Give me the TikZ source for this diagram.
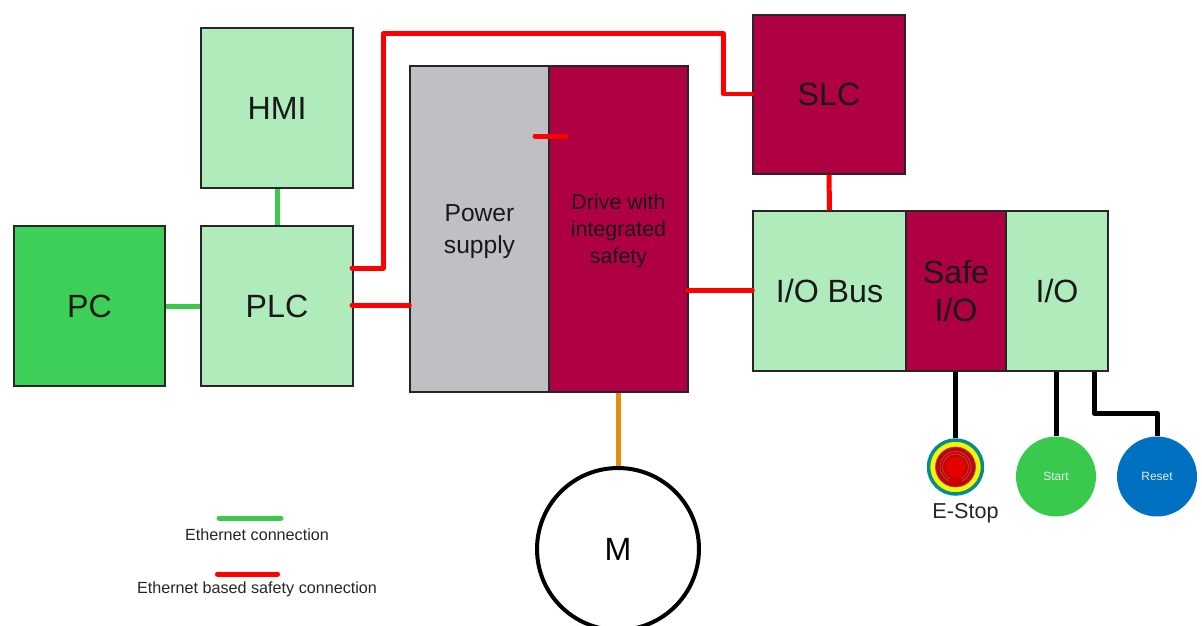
\documentclass[tikz,border=0pt]{standalone}
\usepackage{fontspec}
\setmainfont{Liberation Sans}
\definecolor{lightgrn}{HTML}{B0EBBC}
\definecolor{pcgrn}{HTML}{3DCF57}
\definecolor{safered}{HTML}{B00044}
\definecolor{psgray}{HTML}{BFC0C3}
\definecolor{ethgrn}{HTML}{39C94C}
\definecolor{linkorange}{HTML}{E98A0B}
\definecolor{resetblue}{HTML}{0070C0}
\tikzset{
  block/.style={draw=black!85, line width=.8pt, inner sep=0pt, align=center, text=black!90, font=\fontsize{18.3}{22}\selectfont},
  boxtext/.style={align=center, text=black!90},
  eth/.style={ethgrn, line width=.1cm},
  safety/.style={red, line width=.1cm, line cap=round, line join=round},
  wire/.style={black, line width=.1cm, line join=round},
  legend/.style={font=\fontsize{9.2}{11}\selectfont, text=black!85},
  btn/.style={circle, inner sep=0pt, minimum size=1.6cm, text=white!92!black, font=\fontsize{6.8}{8}\selectfont}
}
\begin{document}
\begin{tikzpicture}[x=.02cm, y=-.02cm]
\useasboundingbox (0,0) rectangle (1202,625);
\clip (0,0) rectangle (1202,625);

\node[block, fill=pcgrn, minimum width=3.02cm, minimum height=3.2cm] (pc) at (89.5,306) {PC};
\node[block, fill=lightgrn, minimum width=3.04cm, minimum height=3.2cm] (hmi) at (277,108) {HMI};
\node[block, fill=lightgrn, minimum width=3.04cm, minimum height=3.2cm] (plc) at (277,306) {PLC};
\node[block, fill=psgray, minimum width=2.78cm, minimum height=6.52cm] (ps) at (479.5,229) {};
\node[block, fill=safered, minimum width=2.78cm, minimum height=6.52cm] (drive) at (618.5,229) {};
\node[boxtext, font=\fontsize{14}{18}\selectfont] (pstext) at (479.5,231.5) {Power\\supply};
\node[boxtext, font=\fontsize{12.2}{15.2}\selectfont] (drivetext) at (618.5,231) {Drive with\\integrated\\safety};
\node[block, fill=safered, minimum width=3.04cm, minimum height=3.18cm] (slc) at (829,94.5) {SLC};
\node[block, fill=lightgrn, minimum width=3.06cm, minimum height=3.2cm] (iobus) at (829.5,291) {I/O Bus};
\node[block, fill=safered, minimum width=2cm, minimum height=3.2cm] (safeio) at (956,291) {Safe\\I/O};
\node[block, fill=lightgrn, minimum width=2.04cm, minimum height=3.2cm] (io) at (1057,291) {I/O};

\node[draw=black, line width=.08cm, circle, fill=white, minimum size=3.24cm, inner sep=0pt, font=\fontsize{18.3}{22}\selectfont] (m) at (618,549) {M};
\node[btn, fill=ethgrn] (start) at (1056,476.5) {Start};
\node[btn, fill=resetblue] (reset) at (1157,476.5) {Reset};

% e-stop rings
\node[circle, fill=yellow, draw=teal!60!cyan!80!black, line width=.07cm, minimum size=1.08cm, inner sep=0pt] (estop) at (955.5,467) {};
\node[circle, fill=red!80!black, draw=blue!30!black!60, line width=.015cm, minimum size=.8cm, inner sep=0pt] (ering) at (estop) {};
\draw[red!50!black!70, line width=.015cm] (estop.center) ++(-65:.31cm) arc (-65:245:.31cm);
\draw[red!50!black!70, line width=.015cm] (estop.center) ++(-65:.26cm) arc (-65:245:.26cm);
\node[circle, fill=red!90!black, minimum size=.42cm, inner sep=0pt] (ecore) at (estop) {};
\node[font=\fontsize{12.3}{14}\selectfont, text=black!85] (estoplabel) at (965.5,513) {E-Stop};

\coordinate (plcup) at (352,268);
\coordinate (plcmid) at (352,305);
\coordinate (slctop) at (723,94);
\coordinate (drvleft) at (535,136);
\coordinate (drvright) at (566,136);
\coordinate (drvout) at (688,290);
\coordinate (ioout) at (1094,372);

\draw[eth] (pc.east) -- (plc.west);
\draw[eth] (hmi.south) -- (plc.north);

\draw[safety] (plcup) -- (383,268) -- (383,34) -- (723,34) -- (slctop) -- (slctop -| slc.west);
\draw[safety] (plcmid) -- (plcmid -| ps.west);
\draw[safety] (drvleft) -- (drvright);
\draw[safety] (drvout) -- (drvout -| iobus.west);
\draw[safety, line cap=butt] (slc.south) -- (iobus.north);

\draw[linkorange, line width=.1cm] (m.north |- drive.south) -- (m.north);

\draw[wire] (estop.north |- safeio.south) -- (estop.north);
\draw[wire] (start.north |- io.south) -- (start.north);
\draw[wire] (ioout) -- (1094,413) -- (1157,413) -- (reset.north);

% legend
\coordinate (ethl) at (219,518);
\coordinate (ethr) at (281,518);
\coordinate (safl) at (217.5,574);
\coordinate (safr) at (277.5,574);
\draw[eth, line cap=round] (ethl) -- (ethr);
\draw[safety] (safl) -- (safr);
\node[legend] (ethtext) at (257,534.5) {Ethernet connection};
\node[legend] (saftext) at (257,589) {Ethernet based safety connection};
\end{tikzpicture}
\end{document}
